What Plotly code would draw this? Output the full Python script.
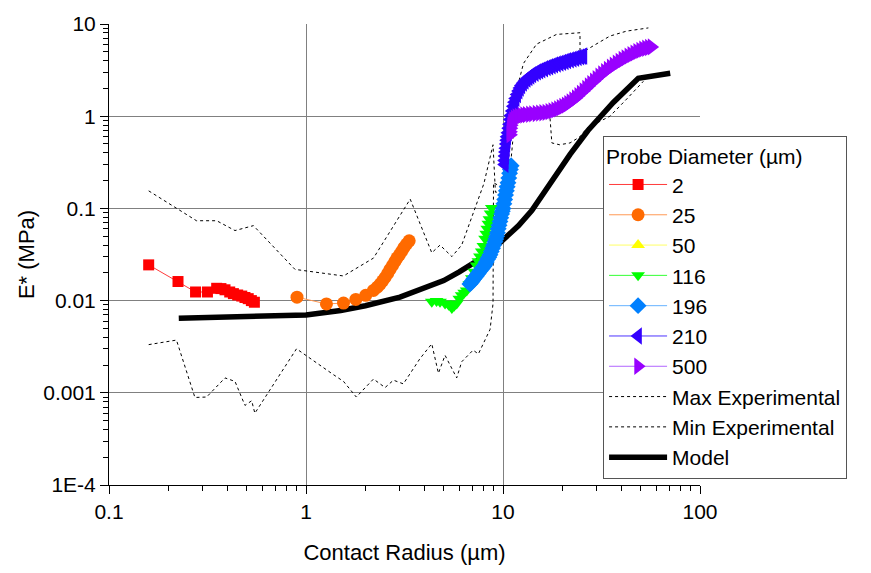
import plotly.graph_objects as go

# ---------------- data ----------------
p2_x = [0.159, 0.224, 0.275, 0.316, 0.352, 0.37, 0.388, 0.41, 0.428, 0.45, 0.472, 0.49, 0.509, 0.528, 0.547]
p2_y = [0.0244, 0.0161, 0.0124, 0.0124, 0.0136, 0.0135, 0.0131, 0.0124, 0.0119, 0.0115, 0.0112, 0.0108, 0.0105, 0.0100, 0.0096]

p25_x = [0.90, 1.27, 1.55, 1.79, 2.01, 2.20, 2.30, 2.38, 2.45, 2.52, 2.60, 2.67, 2.75, 2.83, 2.90, 2.98, 3.06, 3.14, 3.24, 3.34]
p25_y = [0.0109, 0.0092, 0.0094, 0.0103, 0.0114, 0.0129, 0.0140, 0.0151, 0.0164, 0.0178, 0.0197, 0.0218, 0.0241, 0.0267,
         0.0290, 0.0314, 0.0343, 0.0375, 0.0410, 0.0445]

p50_x = [None]
p50_y = [None]

p116_x = [4.35, 4.60, 4.79, 5.08, 5.30, 5.50, 5.65, 5.82, 6.0, 6.17, 6.35, 6.54, 6.75, 6.95, 7.15, 7.35, 7.50, 7.64, 7.80,
          7.95, 8.11, 8.22, 8.32, 8.43, 8.53, 8.65, 8.77]
p116_y = [0.0097, 0.0099, 0.0097, 0.0093, 0.0090, 0.0083, 0.0088, 0.0093, 0.0105, 0.0114, 0.0122, 0.0129, 0.0150, 0.0175,
          0.0205, 0.0240, 0.0267, 0.0300, 0.0340, 0.0390, 0.0470, 0.0530, 0.0600, 0.0680, 0.0764, 0.0880, 0.1010]

p196_x = [6.79, 6.9, 7.0, 7.1, 7.21, 7.32, 7.42, 7.53, 7.64, 7.76, 7.88, 8.0, 8.11, 8.23, 8.35, 8.47, 8.59, 8.72, 8.85,
          8.97, 9.10, 9.19, 9.28, 9.37, 9.46, 9.55, 9.65, 9.74, 9.84, 9.92, 10.0, 10.1, 10.2, 10.3, 10.4, 10.5, 10.6,
          10.7, 10.8, 10.9, 11.0]
p196_y = [0.0151, 0.0157, 0.0164, 0.0171, 0.0178, 0.0185, 0.0193, 0.0201, 0.0209, 0.0218, 0.0227, 0.0236, 0.0246, 0.0262,
          0.0280, 0.0296, 0.0314, 0.0340, 0.0370, 0.0400, 0.0434, 0.0466, 0.0500, 0.0545, 0.0600, 0.0655, 0.0720, 0.0790,
          0.0870, 0.0930, 0.100, 0.112, 0.125, 0.140, 0.155, 0.172, 0.190, 0.213, 0.240, 0.265, 0.290]

p210_x = [10.2, 10.2, 10.25, 10.3, 10.35, 10.4, 10.45, 10.5, 10.6, 10.7, 10.8, 10.9, 11.0, 11.15, 11.3, 11.45, 11.6,
          11.8, 12.0, 12.2, 12.4, 12.65, 12.9, 13.2, 13.5, 13.8, 14.1, 14.5, 14.9, 15.3, 15.7, 16.2, 16.7, 17.2, 17.7,
          18.2, 18.8, 19.4, 20.0, 20.6, 21.2, 21.9, 22.6, 23.3, 24.0, 24.7, 25.3, 25.6]
p210_y = [0.30, 0.33, 0.37, 0.41, 0.45, 0.50, 0.55, 0.60, 0.66, 0.74, 0.82, 0.92, 1.02, 1.14, 1.28, 1.42, 1.56, 1.72,
          1.88, 2.02, 2.15, 2.28, 2.40, 2.52, 2.63, 2.73, 2.82, 2.92, 3.02, 3.10, 3.18, 3.27, 3.36, 3.44, 3.52, 3.60,
          3.68, 3.76, 3.84, 3.92, 4.00, 4.08, 4.16, 4.24, 4.32, 4.40, 4.46, 4.50]

p500_x = [10.9, 10.9, 10.95, 11.0, 11.1, 11.25, 11.45, 11.7, 12.0, 12.4, 12.8, 13.2, 13.7, 14.2, 14.8, 15.4, 16.0, 16.6,
          17.2, 17.8, 18.4, 19.0, 19.6, 20.2, 20.8, 21.4, 22.0, 22.7, 23.4, 24.1, 24.8, 25.6, 26.4, 27.2, 28.0, 28.9,
          29.8, 30.8, 31.8, 32.9, 34.0, 35.2, 36.4, 37.7, 39.0, 40.4, 41.8, 43.3, 44.8, 46.4, 48.0, 49.7, 51.4, 53.2,
          55.0, 56.8]
p500_y = [0.63, 0.68, 0.74, 0.80, 0.86, 0.91, 0.95, 0.98, 1.00, 1.02, 1.03, 1.04, 1.05, 1.06, 1.07, 1.08, 1.09, 1.10,
          1.12, 1.14, 1.17, 1.20, 1.24, 1.28, 1.32, 1.37, 1.43, 1.50, 1.58, 1.67, 1.77, 1.88, 2.00, 2.13, 2.26, 2.40,
          2.55, 2.71, 2.88, 3.05, 3.22, 3.40, 3.58, 3.76, 3.94, 4.12, 4.30, 4.48, 4.66, 4.84, 5.02, 5.18, 5.33, 5.46,
          5.56, 5.64]

max_x = [0.159, 0.225, 0.278, 0.352, 0.436, 0.541, 0.879, 1.55, 2.20, 3.38, 4.35, 4.79, 5.50, 6.17, 8.0, 8.9, 9.15, 10.5,
         10.8, 11.3, 12.7, 14.8, 18.7, 24.6, 24.6, 28.8, 34.9, 42.4, 54.7]
max_y = [0.155, 0.0975, 0.0735, 0.0735, 0.0575, 0.065, 0.0218, 0.0185, 0.0289, 0.126, 0.033, 0.040, 0.030, 0.040, 0.186,
         0.49, 0.15, 0.15, 0.60, 1.41, 3.73, 6.05, 7.71, 8.04, 4.74, 5.82, 7.4, 8.37, 9.07]

min_x = [0.159, 0.22, 0.273, 0.313, 0.388, 0.436, 0.49, 0.53, 0.55, 0.895, 1.38, 1.55, 1.80, 2.20, 2.52, 2.78, 3.12, 3.79,
         4.35, 4.70, 5.08, 5.82, 6.17, 7.05, 7.5, 8.1, 8.6, 8.9, 8.95, 10.9, 10.9, 11.4, 12.2, 15.4, 17.3, 17.7, 19.4, 21.9,
         24.6, 26.6, 34.9, 42.4, 51.6]
min_y = [0.00333, 0.00373, 0.00089, 0.00090, 0.00145, 0.00133, 0.00073, 0.00082, 0.00060, 0.0030, 0.00157, 0.00133,
         0.00090, 0.00141, 0.00114, 0.00137, 0.00125, 0.00235, 0.0034, 0.00163, 0.00255, 0.00145, 0.00217, 0.0029,
         0.00264, 0.00366, 0.00488, 0.0093, 0.19, 0.15, 0.28, 0.80, 0.87, 1.06, 1.0, 0.513, 0.49, 0.513, 0.60, 0.74, 1.0,
         1.53, 2.39]

model_x = [0.226, 0.4, 0.7, 1.0, 1.5, 2.0, 3.0, 4.0, 5.0, 6.0, 7.0, 8.0, 9.0, 10, 12, 14, 17.3, 21.9, 27, 36.3, 48.6, 60, 70.6]
model_y = [0.00645, 0.0066, 0.0068, 0.0070, 0.0078, 0.0088, 0.0109, 0.0138, 0.0165, 0.0205, 0.025, 0.030, 0.037, 0.0455,
           0.065, 0.095, 0.186, 0.385, 0.70, 1.41, 2.58, 2.80, 2.92]

x_tickvals = [0.1, 1, 10, 100]
x_ticktext = ["0.1", "1", "10", "100"]
y_tickvals = [1e-4, 1e-3, 1e-2, 1e-1, 1, 10]
y_ticktext = ["1E-4", "0.001", "0.01", "0.1", "1", "10"]
digits = [2, 3, 4, 5, 6, 7, 8, 9]
x_minor = [d * 10.0 ** e for e in (-1, 0, 1) for d in digits]
y_minor = [d * 10.0 ** e for e in (-4, -3, -2, -1, 0) for d in digits]

FONT = "Arial, 'Liberation Sans', sans-serif"

fig = go.Figure()

series = [
    ("2", p2_x, p2_y, "square", "#ff0000", "#ff3b3b", 11),
    ("25", p25_x, p25_y, "circle", "#ff6a00", "#ff9955", 13),
    ("50", p50_x, p50_y, "triangle-up", "#ffff00", "#ffff66", 12),
    ("116", p116_x, p116_y, "triangle-down", "#00ff00", "#33ff33", 12),
    ("196", p196_x, p196_y, "diamond", "#0080ff", "#66b2ff", 13),
    ("210", p210_x, p210_y, "triangle-left", "#3300ff", "#4d33ff", 15),
    ("500", p500_x, p500_y, "triangle-right", "#9900ff", "#b266ff", 15),
]

fig.add_trace(go.Scatter(x=max_x, y=max_y, mode="lines", name="Max Experimental",
                         line=dict(color="black", width=1, dash="3px,3px"), legendrank=8))
fig.add_trace(go.Scatter(x=min_x, y=min_y, mode="lines", name="Min Experimental",
                         line=dict(color="black", width=1, dash="3px,3px"), legendrank=9))
fig.add_trace(go.Scatter(x=model_x, y=model_y, mode="lines", name="Model",
                         line=dict(color="black", width=5.5), legendrank=10))

for i, (name, xs, ys, sym, mcol, lcol, ms) in enumerate(series):
    fig.add_trace(go.Scatter(x=xs, y=ys, mode="lines+markers", name=name,
                             line=dict(color=lcol, width=1),
                             marker=dict(symbol=sym, color=mcol, size=ms, line=dict(width=0)),
                             legendrank=i + 1))

# invisible anchor point for the overlay axes that carry the minor ticks
fig.add_trace(go.Scatter(x=[1], y=[0.01], xaxis="x2", yaxis="y2", showlegend=False,
                         hoverinfo="skip", mode="markers", marker=dict(opacity=0, size=1)))

tick_font = dict(family=FONT, size=21, color="black")

fig.update_layout(
    xaxis=dict(type="log", range=[-1, 2], showline=True, linecolor="black", linewidth=1,
               tickmode="array", tickvals=x_tickvals, ticktext=x_ticktext,
               ticks="outside", ticklen=8, tickcolor="black", tickwidth=1,
               showgrid=True, gridcolor="#808080", gridwidth=1, zeroline=False, tickfont=tick_font,
               title=dict(text="Contact Radius (µm)", font=dict(family=FONT, size=22, color="black"), standoff=22)),
    yaxis=dict(type="log", range=[-4, 1], showline=True, linecolor="black", linewidth=1,
               tickmode="array", tickvals=y_tickvals, ticktext=y_ticktext,
               ticks="outside", ticklen=8, tickcolor="black", tickwidth=1,
               showgrid=True, gridcolor="#808080", gridwidth=1, zeroline=False, tickfont=tick_font,
               title=dict(text="E* (MPa)", font=dict(family=FONT, size=22, color="black"), standoff=2)),
    xaxis2=dict(type="log", range=[-1, 2], overlaying="x", anchor="y", side="bottom",
                tickmode="array", tickvals=x_minor, showticklabels=False,
                ticks="outside", ticklen=5, tickcolor="black", tickwidth=1,
                showgrid=False, showline=False, zeroline=False),
    yaxis2=dict(type="log", range=[-4, 1], overlaying="y", anchor="x", side="left",
                tickmode="array", tickvals=y_minor, showticklabels=False,
                ticks="outside", ticklen=5, tickcolor="black", tickwidth=1,
                showgrid=False, showline=False, zeroline=False),
)

fig.update_layout(
    width=871, height=573,
    margin=dict(l=109, r=171, t=16, b=83),
    paper_bgcolor="white", plot_bgcolor="white",
    font=dict(family=FONT, color="black"),
    legend=dict(x=0.836, y=0.757, xanchor="left", yanchor="top",
                bgcolor="white", bordercolor="#555555", borderwidth=1,
                font=dict(family=FONT, size=21, color="black"),
                title=dict(text="Probe Diameter (µm)", font=dict(family=FONT, size=21, color="black")),
                tracegroupgap=0, itemwidth=58),
)

fig.write_html("out.html")
